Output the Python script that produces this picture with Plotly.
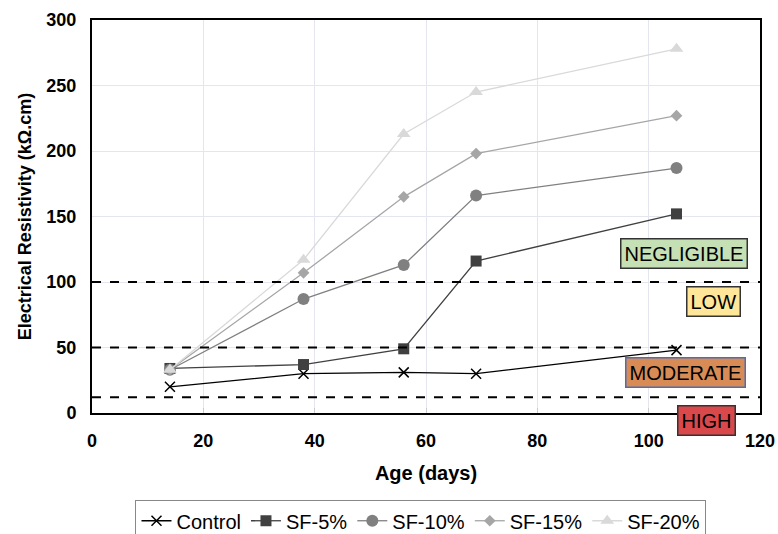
import plotly.graph_objects as go

ages = [14, 38, 56, 69, 105]
control = [20, 30, 31, 30, 48]
sf5 = [34, 37, 49, 116, 152]
sf10 = [33, 87, 113, 166, 187]
sf15 = [33, 107, 165, 198, 227]
sf20 = [33, 117, 213, 245, 278]

series_names = ["Control", "SF-5%", "SF-10%", "SF-15%", "SF-20%"]
series_vals = [control, sf5, sf10, sf15, sf20]
colors = ["#000000", "#404040", "#808080", "#a6a6a6", "#d9d9d9"]
symbols = ["x-thin", "square", "circle", "diamond", "triangle-up"]
sizes = [10, 11, 12, 9, 12]

thresholds = [100, 50, 12]
zone_labels = ["NEGLIGIBLE", "LOW", "MODERATE", "HIGH"]
zone_x = [106.4, 111.7, 106.6, 110.3]
zone_y = [122, 85, 31, -0.018]
zone_yref = ["y", "y", "y", "paper"]
zone_fill = ["#c5e0b4", "#ffe699", "#d98b56", "#d9484b"]
zone_border = ["#333333", "#333333", "#4a6fb5", "#333333"]

FONT = "Arial, Liberation Sans, sans-serif"

fig = go.Figure()
for name, vals, c, s, sz in zip(series_names, series_vals, colors, symbols, sizes):
    fig.add_trace(go.Scatter(
        x=ages, y=vals, name=name, mode="lines+markers",
        line=dict(color=c, width=1.3),
        marker=dict(symbol=s, size=sz, color=c,
                    line=dict(color=c, width=1.5 if s == "x-thin" else 0)),
        cliponaxis=False,
    ))

for t in thresholds:
    fig.add_shape(type="line", xref="x", yref="y", x0=0, x1=120, y0=t, y1=t,
                  line=dict(color="black", width=2, dash="dash"))

for lab, xv, yv, yr, f, b in zip(zone_labels, zone_x, zone_y, zone_yref, zone_fill, zone_border):
    fig.add_annotation(x=xv, y=yv, xref="x", yref=yr, text=lab, showarrow=False,
                       xanchor="center", yanchor="middle",
                       bgcolor=f, bordercolor=b, borderwidth=1.5, borderpad=3,
                       font=dict(family=FONT, size=20, color="black"))

fig.update_layout(
    width=778, height=534,
    margin=dict(l=92, r=18, t=20, b=121, autoexpand=False),
    plot_bgcolor="white", paper_bgcolor="white",
    font=dict(family=FONT, size=17, color="black"),
    xaxis=dict(range=[0, 120], dtick=20, showgrid=True, gridcolor="#e3e6ef", gridwidth=1,
               showline=True, linecolor="black", linewidth=2, mirror=True,
               ticks="inside", ticklen=5, tickcolor="#cccccc", zeroline=False,
               ticklabelstandoff=10, automargin=False,
               tickfont=dict(family=FONT, size=18, color="black", weight="bold"),
               title=dict(text="<b>Age (days)</b>", font=dict(family=FONT, size=20), standoff=16)),
    yaxis=dict(range=[0, 300], dtick=50, showgrid=True, gridcolor="#e3e6ef", gridwidth=1,
               showline=True, linecolor="black", linewidth=2, mirror=True,
               ticks="", zeroline=False, ticklabelstandoff=10, automargin=False,
               tickfont=dict(family=FONT, size=18, color="black", weight="bold"),
               title=dict(text="<b>Electrical Resistivity (kΩ.cm)</b>", font=dict(family=FONT, size=18), standoff=10)),
    legend=dict(orientation="h", x=0.4925, xanchor="center", y=-0.222, yanchor="top",
                bordercolor="#888888", borderwidth=1, bgcolor="white",
                font=dict(family=FONT, size=20), itemwidth=30, tracegroupgap=0),
)

fig.write_html("out.html")
